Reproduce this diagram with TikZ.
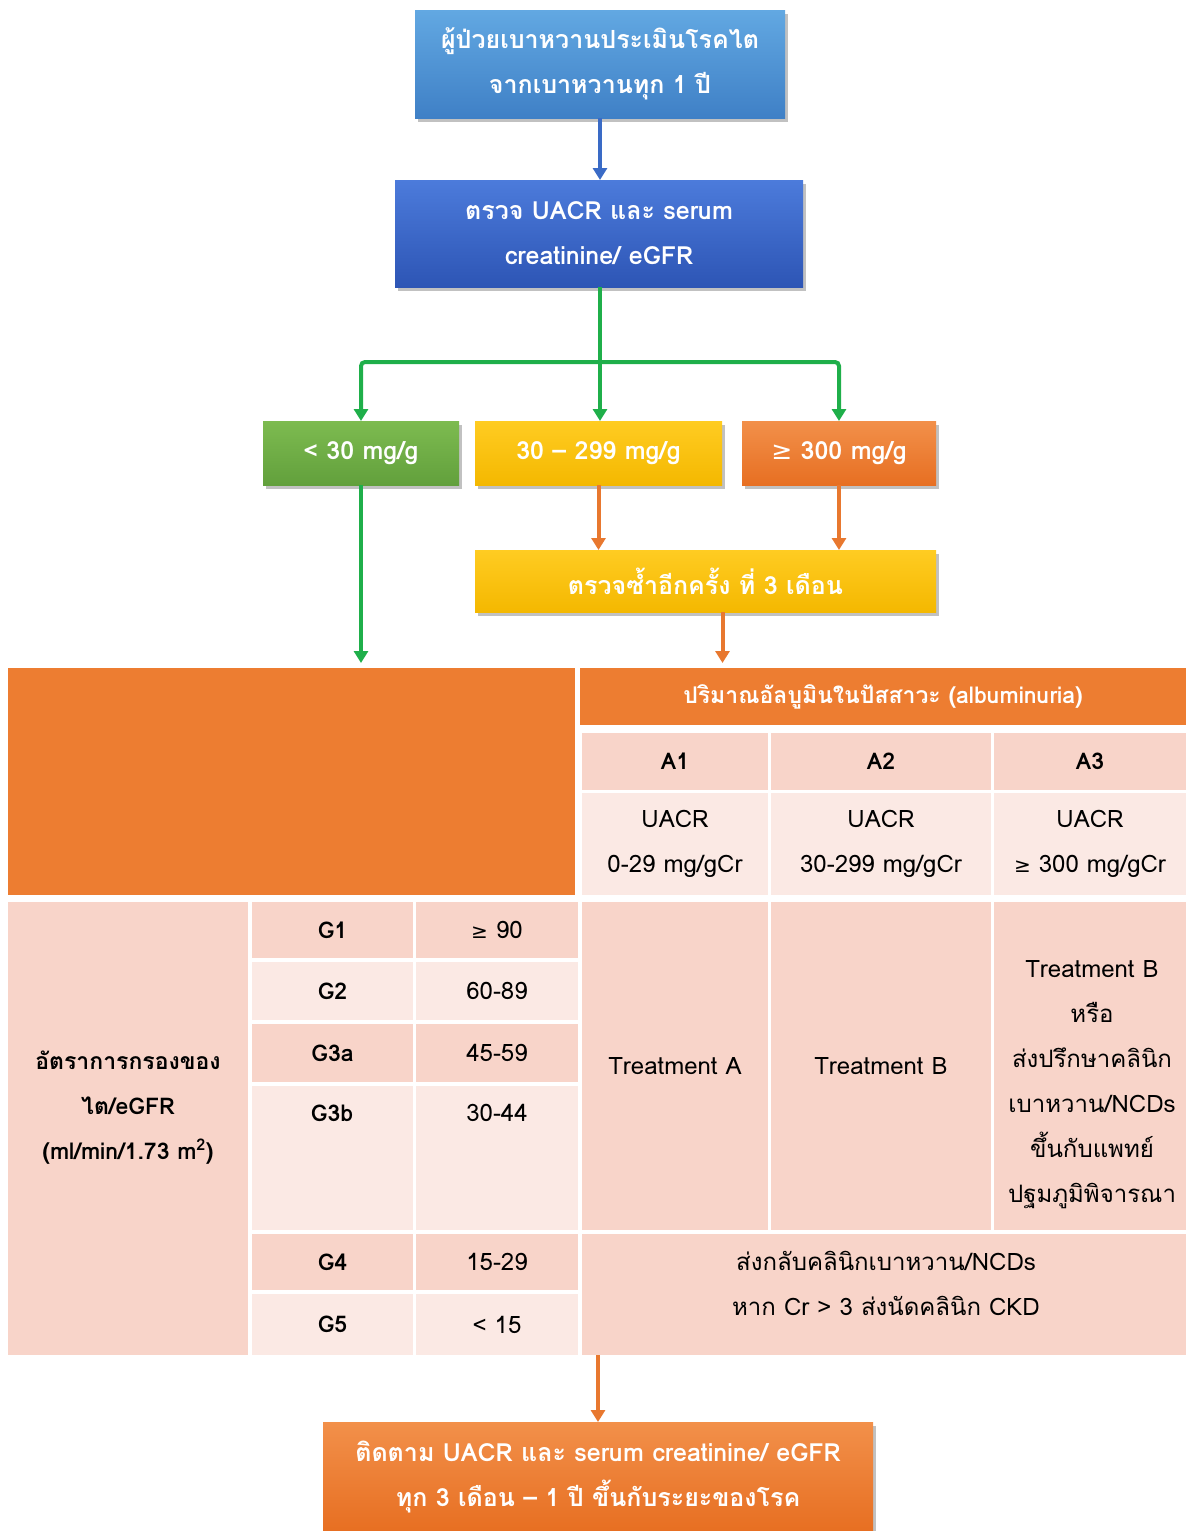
\documentclass[tikz,border=0pt]{standalone}
\usepackage{fontspec}
\setmainfont[Script=Thai]{Loma}
\newfontfamily\dejavu{DejaVu Sans}
\usetikzlibrary{arrows.meta,shadows,shadings}
\definecolor{b1top}{HTML}{62A8E2}
\definecolor{b1bot}{HTML}{3F80C6}
\definecolor{b2top}{HTML}{4C7BDB}
\definecolor{b2bot}{HTML}{2D55B5}
\definecolor{gtop}{HTML}{7DBB50}
\definecolor{gbot}{HTML}{62A03C}
\definecolor{ytop}{HTML}{FFCC22}
\definecolor{ybot}{HTML}{F4B800}
\definecolor{otop}{HTML}{F2904A}
\definecolor{obot}{HTML}{E76F22}
\definecolor{tor}{HTML}{ED7D31}
\definecolor{peachD}{HTML}{F8D4C9}
\definecolor{peachL}{HTML}{FBE9E4}
\definecolor{cgreen}{HTML}{1FAF4A}
\definecolor{corange}{HTML}{E8782F}
\definecolor{cblue}{HTML}{3A6BC6}
\newcommand\mycell[7]{\node[#2, minimum width={#5-#3}, minimum height={#6-#4}] (#1) at ({(#3+#5)/2},{(#4+#6)/2}) {#7};}
\begin{document}
\begin{tikzpicture}[x=1pt,y=-1pt,
  fbox/.style={inner sep=0pt, outer sep=0pt, align=center, text=white,
    font=\fontsize{25}{45}\selectfont\bfseries,
    drop shadow={shadow xshift=3pt, shadow yshift=-4pt, opacity=0.35, fill=black!70}},
  bluea/.style={top color=b1top, bottom color=b1bot},
  blueb/.style={top color=b2top, bottom color=b2bot},
  greenbox/.style={top color=gtop, bottom color=gbot},
  yellowbox/.style={top color=ytop, bottom color=ybot},
  orangebox/.style={top color=otop, bottom color=obot},
  conn/.style={line width=4pt, rounded corners=4pt, -{Triangle[width=14pt,length=12pt]}},
  plain/.style={line width=4pt},
  cellO/.style={fill=tor, inner sep=0pt, outer sep=0pt, align=center, text=white, font=\fontsize{23}{45}\selectfont\bfseries},
  cellD/.style={fill=peachD, inner sep=0pt, outer sep=0pt, align=center, font=\fontsize{24}{45}\selectfont},
  cellL/.style={fill=peachL, inner sep=0pt, outer sep=0pt, align=center, font=\fontsize{24}{45}\selectfont},
  ttext/.style={inner sep=0pt, align=center, font=\fontsize{24}{45}\selectfont},
  bold/.style={font=\fontsize{23}{45}\selectfont\bfseries}
]
\useasboundingbox (0,0) rectangle (1186,1531);

% flow boxes
\mycell{box1}{fbox,bluea}{415}{10}{785}{118}{ผู้ป่วยเบาหวานประเมินโรคไต\\จากเบาหวานทุก 1 ปี}
\mycell{box2}{fbox,blueb}{395}{180}{803}{287}{ตรวจ UACR และ serum\\creatinine/ eGFR}
\mycell{ba}{fbox,greenbox}{263}{421}{459}{485}{< 30 mg/g}
\mycell{bb}{fbox,yellowbox}{475}{421}{722}{485}{30 – 299 mg/g}
\mycell{bc}{fbox,orangebox}{742}{421}{936}{485}{{\dejavu\mdseries ≥} 300 mg/g}
\mycell{rt}{fbox,yellowbox}{475}{550}{936}{612}{ตรวจซ้ำอีกครั้ง ที่ 3 เดือน}

% table
\mycell{tl}{cellO}{8}{668}{575}{895}{}
\mycell{hdr}{cellO}{580}{668}{1186}{725}{ปริมาณอัลบูมินในปัสสาวะ (albuminuria)}
\mycell{a1}{cellD,bold}{582}{733}{768}{790}{A1}
\mycell{a2}{cellD,bold}{771}{733}{991}{790}{A2}
\mycell{a3}{cellD,bold}{994}{733}{1186}{790}{A3}
\mycell{u1}{cellL}{582}{793}{768}{895}{UACR\\0-29 mg/gCr}
\mycell{u2}{cellL}{771}{793}{991}{895}{UACR\\30-299 mg/gCr}
\mycell{u3}{cellL}{994}{793}{1186}{895}{UACR\\{\dejavu\fontsize{20}{20}\selectfont ≥} 300 mg/gCr}

\mycell{lc}{cellD}{8}{902}{248}{1355}{}
\node[ttext,bold] at (128,1108) {อัตราการกรองของ\\ไต/eGFR\\(ml/min/1.73 m\textsuperscript{2})};

\mycell{g1}{cellD,bold}{252}{902}{413}{958}{G1}
\mycell{v1}{cellD}{416}{902}{578}{958}{{\dejavu\fontsize{20}{20}\selectfont ≥} 90}
\mycell{g2}{cellL,bold}{252}{962}{413}{1020}{G2}
\mycell{v2}{cellL}{416}{962}{578}{1020}{60-89}
\mycell{g3}{cellD,bold}{252}{1024}{413}{1082}{G3a}
\mycell{v3}{cellD}{416}{1024}{578}{1082}{45-59}
\mycell{g4}{cellL}{252}{1086}{413}{1230}{}
\mycell{v4}{cellL}{416}{1086}{578}{1230}{}
\node[ttext,bold] at (332,1113) {G3b};
\node[ttext] at (497,1113) {30-44};
\mycell{g5}{cellD,bold}{252}{1234}{413}{1290}{G4}
\mycell{v5}{cellD}{416}{1234}{578}{1290}{15-29}
\mycell{g6}{cellL,bold}{252}{1294}{413}{1355}{G5}
\mycell{v6}{cellL}{416}{1294}{578}{1355}{< 15}

\mycell{t1}{cellD}{582}{902}{768}{1230}{Treatment A}
\mycell{t2}{cellD}{771}{902}{991}{1230}{Treatment B}
\mycell{t3}{cellD}{994}{902}{1186}{1230}{}
\node[ttext] at (1092,1085) {Treatment B\\หรือ\\ส่งปรึกษาคลินิก\\เบาหวาน/NCDs\\ขึ้นกับแพทย์\\ปฐมภูมิพิจารณา};
\mycell{gb}{cellD}{582}{1234}{1186}{1355}{}
\node[ttext] at (886,1283) {ส่งกลับคลินิกเบาหวาน/NCDs\\หาก Cr > 3 ส่งนัดคลินิก CKD};

\mycell{bot}{fbox,orangebox}{323}{1422}{873}{1531}{ติดตาม UACR และ serum creatinine/ eGFR\\ทุก 3 เดือน – 1 ปี ขึ้นกับระยะของโรค}

% connectors
\draw[conn,cblue] (box1.south) -- (box1.south |- box2.north);
\coordinate (jn) at (600,362);
\draw[plain,cgreen] (box2.south -| jn) -- (jn);
\draw[conn,cgreen] (jn) -| (ba.north);
\draw[conn,cgreen] (jn) -| (bc.north);
\draw[conn,cgreen] (jn) -- (jn |- bb.north);
\draw[conn,corange] (bb.south) -- (bb.south |- rt.north);
\draw[conn,corange] (bc.south) -- (bc.south |- rt.north);
\draw[conn,corange,shorten >=5pt] ([xshift=17pt]rt.south) -- ([xshift=17pt]rt.south |- hdr.north);
\draw[conn,cgreen,shorten >=5pt] (ba.south) -- (ba.south |- tl.north);
\draw[conn,corange] (bot.north |- gb.south) -- (bot.north);
\end{tikzpicture}
\end{document}
